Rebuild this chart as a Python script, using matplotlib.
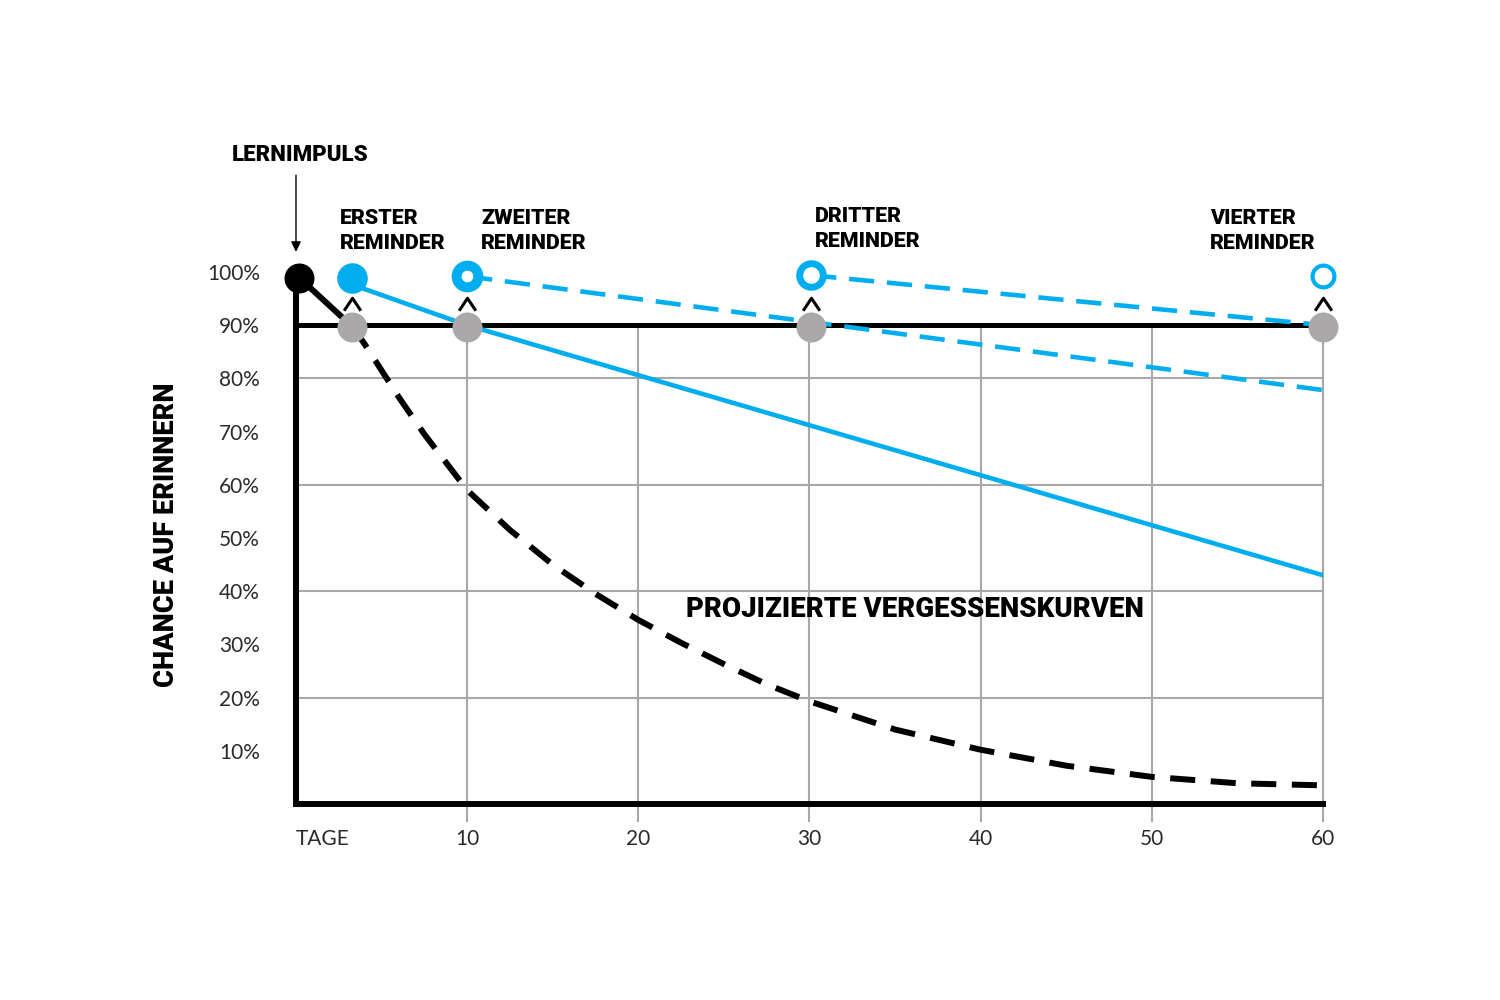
import matplotlib.pyplot as plt

# axis ticks
day_ticks = [0, 10, 20, 30, 40, 50, 60]
day_labels = ['TAGE', '10', '20', '30', '40', '50', '60']
pct_ticks = [10, 20, 30, 40, 50, 60, 70, 80, 90, 100]
pct_labels = ['10%', '20%', '30%', '40%', '50%', '60%', '70%', '80%', '90%', '100%']
grid_days = [10, 20, 30, 40, 50, 60]
grid_pcts = [20, 40, 60, 80]

# learning impulse and reminders
impulse_day = 0.2
impulse_val = 98.9
reminder_days = [3.3, 10, 30.1, 60]
reminder_tops = [98.9, 99.2, 99.4, 99.2]
reminder_floor = [89.7, 89.7, 89.7, 89.7]
reminder_names = ['ERSTER\nREMINDER', 'ZWEITER\nREMINDER', 'DRITTER\nREMINDER', 'VIERTER\nREMINDER']

# forgetting curves
forget_days = [3.3, 4, 5, 6, 7.5, 10, 12.5, 15, 17.5, 20, 22.5, 25, 27.5, 30, 35, 40, 45, 50, 55, 60]
forget_vals = [89.7, 86.5, 81.5, 76.5, 69.5, 59, 51.5, 45, 39.5, 34.6, 30.3, 26.3, 22.5, 19.3,
               14, 10.2, 7.2, 5.1, 3.9, 3.5]
first_days = [3.3, 10, 20, 30, 40, 50, 60]
first_vals = [97.6, 90, 80.6, 71.2, 61.8, 52.4, 43]
second_days = [10, 60]
second_vals = [99.2, 77.8]
third_days = [30.1, 60]
third_vals = [99.4, 90]

blue = '#00aeef'
dot_gray = '#aaa8a8'
grid_gray = '#a8a8a8'

plt.rcParams['font.family'] = ['Lato', 'DejaVu Sans']
heavy = ['Roboto', 'DejaVu Sans']

fig = plt.figure(figsize=(15, 10), dpi=100)
ax = fig.add_axes([0.19733, 0.196, 0.68467, 0.532])
ax.set_xlim(0, 60)
ax.set_ylim(0, 100)
for s in ax.spines.values():
    s.set_visible(False)

# grid
ax.hlines(grid_pcts, 0, 60, color=grid_gray, lw=1.5, zorder=1)
ax.vlines(grid_days, -3.4, 90, color=grid_gray, lw=1.5, zorder=1, clip_on=False)

# axes + 90% line
ax.plot([0, 0, 60], [99, 0, 0], color='black', lw=4.3, solid_joinstyle='miter', clip_on=False, zorder=3)
ax.plot([0, 60], [90, 90], color='black', lw=3.6, zorder=3)

# curves
ax.plot([impulse_day, reminder_days[0]], [impulse_val, reminder_floor[0]], color='black', lw=4.3, zorder=4)
ax.plot(forget_days, forget_vals, color='black', lw=4.3, ls=(0, (4.2, 2.6)), zorder=4)
ax.plot(first_days, first_vals, color=blue, lw=3.3, zorder=4)
ax.plot(second_days, second_vals, color=blue, lw=3.3, ls=(0, (5.5, 2.8)), zorder=4)
ax.plot(third_days, third_vals, color=blue, lw=3.3, ls=(0, (5.5, 2.8)), zorder=4)

# markers
ax.plot(reminder_days, reminder_floor, 'o', ms=21.6, color=dot_gray, mec='none', zorder=6, clip_on=False)
ax.plot([impulse_day], [impulse_val], 'o', ms=21.6, color='black', mec='none', zorder=6, clip_on=False)
ax.plot(reminder_days[:1], reminder_tops[:1], 'o', ms=22, color=blue, mec='none', zorder=6, clip_on=False)
ax.plot(reminder_days[1:2], reminder_tops[1:2], 'o', ms=15.6, mfc='white', mec=blue, mew=7.2, zorder=6, clip_on=False)
ax.plot(reminder_days[2:3], reminder_tops[2:3], 'o', ms=17, mfc='white', mec=blue, mew=5, zorder=6, clip_on=False)
ax.plot(reminder_days[3:], reminder_tops[3:], 'o', ms=15.7, mfc='white', mec=blue, mew=3, zorder=6, clip_on=False)

chevron = [(-1, -0.75), (0, 0.75), (1, -0.75)]
ax.plot(reminder_days, [94.0] * 4, ls='none', marker=chevron, ms=12, mfc='none', mec='black', mew=2.2,
        zorder=6, clip_on=False)

# labels
ax.text(-3.74, 122, 'LERNIMPULS', fontsize=16, fontweight='black', family=heavy, ha='left', va='center')
ax.annotate('', xy=(0, 103.8), xytext=(0, 118.2), annotation_clip=False,
            arrowprops=dict(arrowstyle='-|>', color='black', lw=1, mutation_scale=15, shrinkA=0, shrinkB=0))
name_x = [2.57, 10.81, 30.32, 53.4]
name_y = [107.7, 107.7, 108.1, 107.7]
for x, y, name in zip(name_x, name_y, reminder_names):
    ax.text(x, y, name, fontsize=15.4, fontweight='black', family=heavy, ha='left', va='center',
            linespacing=1.4)

ax.text(22.78, 36.5, 'PROJIZIERTE VERGESSENSKURVEN', fontsize=19.9, fontweight='black', family=heavy,
        ha='left', va='center')
fig.text(167 / 1500, 1 - 535 / 1000, 'CHANCE AUF ERINNERN', rotation=90, fontsize=19.6,
         fontweight='black', family=heavy, ha='center', va='center')

ax.set_yticks(pct_ticks, pct_labels)
ax.set_xticks(day_ticks, day_labels)
ax.tick_params(axis='y', length=0, pad=26, labelsize=15)
ax.tick_params(axis='x', length=0, pad=18, labelsize=15)
for lbl in ax.get_yticklabels() + ax.get_xticklabels():
    lbl.set_fontweight('normal')
    lbl.set_color('#2a2a2a')
ax.get_xticklabels()[0].set_ha('left')

fig.savefig('out.png', dpi=100)
